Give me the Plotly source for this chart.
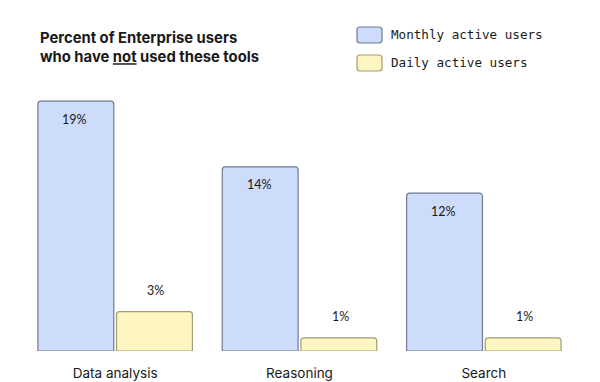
import plotly.graph_objects as go

categories = ["Data analysis", "Reasoning", "Search"]
monthly = [19, 14, 12]
daily = [3, 1, 1]
series_names = ["Monthly active users", "Daily active users"]
title_lines = ["Percent of Enterprise users", "who have <u>not</u> used these tools"]

MONTHLY_FILL = "#cddcfa"
MONTHLY_LINE = "#6f7b90"
DAILY_FILL = "#fdf5c2"
DAILY_LINE = "#a39c74"
TEXT = "#1a1a1a"
SANS = "Inter, Roboto, sans-serif"
MONO = "DejaVu Sans Mono, monospace"

W, H = 600, 382
l, r, t, b = 23, 24, 88, 31
pw, ph = W - l - r, H - t - b
def px(x): return (x - l) / pw
def py(y): return (H - b - y) / ph

fig = go.Figure()
fig.add_trace(go.Bar(x=categories, y=monthly, name=series_names[0],
                     marker=dict(color=MONTHLY_FILL, line=dict(color=MONTHLY_LINE, width=1.2)),
                     offsetgroup="m"))
fig.add_trace(go.Bar(x=categories, y=daily, name=series_names[1],
                     marker=dict(color=DAILY_FILL, line=dict(color=DAILY_LINE, width=1.2)),
                     offsetgroup="d"))

annotations = []
LABEL_FONT = dict(family="Lato, sans-serif", size=12.5, color=TEXT)
for c, v in zip(categories, monthly):
    annotations.append(dict(x=c, y=v, xref="x", yref="y", text=f"{v}%", showarrow=False,
                            xshift=-40.5, yshift=-18, font=LABEL_FONT))
for c, v in zip(categories, daily):
    annotations.append(dict(x=c, y=v, xref="x", yref="y", text=f"{v}%", showarrow=False,
                            xshift=40.5, yshift=21, font=LABEL_FONT))

annotations.append(dict(x=px(38), y=py(47), xref="paper", yref="paper",
                        text="<b>" + title_lines[0] + "</b><br><b>" + title_lines[1] + "</b>",
                        showarrow=False, align="left", xanchor="left", yanchor="middle",
                        font=dict(family=SANS, size=14.8, color=TEXT)))

def rounded_rect(x0, y0, x1, y1, rad):
    X = lambda v: px(v)
    Y = lambda v: py(v)
    return (f"M {X(x0+rad)},{Y(y0)} L {X(x1-rad)},{Y(y0)} Q {X(x1)},{Y(y0)} {X(x1)},{Y(y0+rad)} "
            f"L {X(x1)},{Y(y1-rad)} Q {X(x1)},{Y(y1)} {X(x1-rad)},{Y(y1)} "
            f"L {X(x0+rad)},{Y(y1)} Q {X(x0)},{Y(y1)} {X(x0)},{Y(y1-rad)} "
            f"L {X(x0)},{Y(y0+rad)} Q {X(x0)},{Y(y0)} {X(x0+rad)},{Y(y0)} Z")

legend_rows = [(series_names[0], MONTHLY_FILL, MONTHLY_LINE, 35),
               (series_names[1], DAILY_FILL, DAILY_LINE, 63)]
shapes = []
for name, fill, line, cy in legend_rows:
    shapes.append(dict(type="path", xref="paper", yref="paper",
                       path=rounded_rect(357, cy - 8, 382, cy + 8, 3),
                       fillcolor=fill, line=dict(color=line, width=1.2)))
    annotations.append(dict(x=px(389), y=py(cy), xref="paper", yref="paper", text=name,
                            showarrow=False, xanchor="left", yanchor="middle",
                            font=dict(family=MONO, size=12.6, color=TEXT)))

fig.update_layout(
    width=W, height=H,
    margin=dict(l=l, r=r, t=t, b=b, autoexpand=False),
    paper_bgcolor="white", plot_bgcolor="white",
    barmode="group", bargap=0.147, bargroupgap=0.035, barcornerradius=3,
    showlegend=False,
    xaxis=dict(range=[-0.5, 2.5], showgrid=False, zeroline=False, showline=False,
               automargin=False,
               ticks="outside", ticklen=10, tickcolor="rgba(0,0,0,0)",
               tickfont=dict(family=SANS, size=13.5, color=TEXT)),
    yaxis=dict(range=[0, 20], visible=False, automargin=False),
    annotations=annotations, shapes=shapes,
)

fig.write_html("out.html", config={"displayModeBar": False},
               post_script="document.body.style.margin='0px';")
